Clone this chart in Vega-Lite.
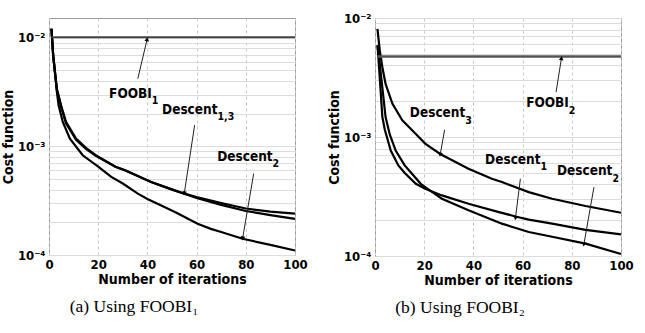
{
  "$schema": "https://vega.github.io/schema/vega-lite/v6.json",
  "padding": {"left": 0, "top": 11, "right": 0, "bottom": 0},
  "spacing": 80,
  "bounds": "flush",
  "datasets": {
    "curves": [
      {"panel": "a", "series": "FOOBI1", "iter": 1, "cost": 0.0101},
      {"panel": "a", "series": "FOOBI1", "iter": 100, "cost": 0.0101},
      {"panel": "a", "series": "Descent1", "iter": 1, "cost": 0.0121},
      {"panel": "a", "series": "Descent1", "iter": 1.7, "cost": 0.0069},
      {"panel": "a", "series": "Descent1", "iter": 3.2, "cost": 0.0034},
      {"panel": "a", "series": "Descent1", "iter": 4.9, "cost": 0.00239},
      {"panel": "a", "series": "Descent1", "iter": 6.9, "cost": 0.00168},
      {"panel": "a", "series": "Descent1", "iter": 11, "cost": 0.00118},
      {"panel": "a", "series": "Descent1", "iter": 15, "cost": 0.00097},
      {"panel": "a", "series": "Descent1", "iter": 19, "cost": 0.00083},
      {"panel": "a", "series": "Descent1", "iter": 27, "cost": 0.00065},
      {"panel": "a", "series": "Descent1", "iter": 31, "cost": 0.000603},
      {"panel": "a", "series": "Descent1", "iter": 41.5, "cost": 0.00047},
      {"panel": "a", "series": "Descent1", "iter": 50, "cost": 0.000402},
      {"panel": "a", "series": "Descent1", "iter": 55, "cost": 0.000367},
      {"panel": "a", "series": "Descent1", "iter": 60, "cost": 0.000342},
      {"panel": "a", "series": "Descent1", "iter": 70, "cost": 0.000301},
      {"panel": "a", "series": "Descent1", "iter": 80, "cost": 0.000268},
      {"panel": "a", "series": "Descent1", "iter": 90, "cost": 0.000251},
      {"panel": "a", "series": "Descent1", "iter": 100, "cost": 0.00024},
      {"panel": "a", "series": "Descent3", "iter": 1, "cost": 0.0121},
      {"panel": "a", "series": "Descent3", "iter": 1.7, "cost": 0.0068},
      {"panel": "a", "series": "Descent3", "iter": 3.2, "cost": 0.0033},
      {"panel": "a", "series": "Descent3", "iter": 4.9, "cost": 0.00232},
      {"panel": "a", "series": "Descent3", "iter": 6.9, "cost": 0.00163},
      {"panel": "a", "series": "Descent3", "iter": 11, "cost": 0.00115},
      {"panel": "a", "series": "Descent3", "iter": 15, "cost": 0.00095},
      {"panel": "a", "series": "Descent3", "iter": 19, "cost": 0.00082},
      {"panel": "a", "series": "Descent3", "iter": 27, "cost": 0.00065},
      {"panel": "a", "series": "Descent3", "iter": 31, "cost": 0.0006},
      {"panel": "a", "series": "Descent3", "iter": 41.5, "cost": 0.00047},
      {"panel": "a", "series": "Descent3", "iter": 50, "cost": 0.0004},
      {"panel": "a", "series": "Descent3", "iter": 55, "cost": 0.000366},
      {"panel": "a", "series": "Descent3", "iter": 60, "cost": 0.000336},
      {"panel": "a", "series": "Descent3", "iter": 70, "cost": 0.000289},
      {"panel": "a", "series": "Descent3", "iter": 80, "cost": 0.000254},
      {"panel": "a", "series": "Descent3", "iter": 90, "cost": 0.000233},
      {"panel": "a", "series": "Descent3", "iter": 100, "cost": 0.000215},
      {"panel": "a", "series": "Descent2", "iter": 1, "cost": 0.0121},
      {"panel": "a", "series": "Descent2", "iter": 1.7, "cost": 0.0069},
      {"panel": "a", "series": "Descent2", "iter": 3.2, "cost": 0.00317},
      {"panel": "a", "series": "Descent2", "iter": 3.9, "cost": 0.00239},
      {"panel": "a", "series": "Descent2", "iter": 5.6, "cost": 0.00168},
      {"panel": "a", "series": "Descent2", "iter": 8.5, "cost": 0.00118},
      {"panel": "a", "series": "Descent2", "iter": 13.7, "cost": 0.000828},
      {"panel": "a", "series": "Descent2", "iter": 20, "cost": 0.00065},
      {"panel": "a", "series": "Descent2", "iter": 25.3, "cost": 0.000523},
      {"panel": "a", "series": "Descent2", "iter": 30, "cost": 0.000455},
      {"panel": "a", "series": "Descent2", "iter": 36.1, "cost": 0.000367},
      {"panel": "a", "series": "Descent2", "iter": 40, "cost": 0.000328},
      {"panel": "a", "series": "Descent2", "iter": 46.9, "cost": 0.000277},
      {"panel": "a", "series": "Descent2", "iter": 52, "cost": 0.000244},
      {"panel": "a", "series": "Descent2", "iter": 60.4, "cost": 0.000194},
      {"panel": "a", "series": "Descent2", "iter": 65.8, "cost": 0.000174},
      {"panel": "a", "series": "Descent2", "iter": 70, "cost": 0.000163},
      {"panel": "a", "series": "Descent2", "iter": 78.7, "cost": 0.000141},
      {"panel": "a", "series": "Descent2", "iter": 90, "cost": 0.000124},
      {"panel": "a", "series": "Descent2", "iter": 100, "cost": 0.00011},
      {"panel": "b", "series": "FOOBI2", "iter": 1, "cost": 0.00474},
      {"panel": "b", "series": "FOOBI2", "iter": 100, "cost": 0.00474},
      {"panel": "b", "series": "Descent3", "iter": 1, "cost": 0.0081},
      {"panel": "b", "series": "Descent3", "iter": 2, "cost": 0.0052},
      {"panel": "b", "series": "Descent3", "iter": 3, "cost": 0.00386},
      {"panel": "b", "series": "Descent3", "iter": 4.3, "cost": 0.00279},
      {"panel": "b", "series": "Descent3", "iter": 7.1, "cost": 0.0019},
      {"panel": "b", "series": "Descent3", "iter": 11.1, "cost": 0.00138},
      {"panel": "b", "series": "Descent3", "iter": 16.6, "cost": 0.00106},
      {"panel": "b", "series": "Descent3", "iter": 20.4, "cost": 0.00088},
      {"panel": "b", "series": "Descent3", "iter": 26.5, "cost": 0.00072},
      {"panel": "b", "series": "Descent3", "iter": 38, "cost": 0.00054},
      {"panel": "b", "series": "Descent3", "iter": 47.5, "cost": 0.000446},
      {"panel": "b", "series": "Descent3", "iter": 51.6, "cost": 0.000418},
      {"panel": "b", "series": "Descent3", "iter": 62.5, "cost": 0.000344},
      {"panel": "b", "series": "Descent3", "iter": 72, "cost": 0.000303},
      {"panel": "b", "series": "Descent3", "iter": 85.6, "cost": 0.000263},
      {"panel": "b", "series": "Descent3", "iter": 100, "cost": 0.000231},
      {"panel": "b", "series": "Descent1", "iter": 1, "cost": 0.0059},
      {"panel": "b", "series": "Descent1", "iter": 1.6, "cost": 0.004},
      {"panel": "b", "series": "Descent1", "iter": 3, "cost": 0.00147},
      {"panel": "b", "series": "Descent1", "iter": 4, "cost": 0.00115},
      {"panel": "b", "series": "Descent1", "iter": 6.4, "cost": 0.00077},
      {"panel": "b", "series": "Descent1", "iter": 9.5, "cost": 0.000577},
      {"panel": "b", "series": "Descent1", "iter": 12, "cost": 0.0005},
      {"panel": "b", "series": "Descent1", "iter": 16.6, "cost": 0.000404},
      {"panel": "b", "series": "Descent1", "iter": 20.4, "cost": 0.000367},
      {"panel": "b", "series": "Descent1", "iter": 27.2, "cost": 0.000323},
      {"panel": "b", "series": "Descent1", "iter": 38, "cost": 0.000275},
      {"panel": "b", "series": "Descent1", "iter": 50, "cost": 0.000235},
      {"panel": "b", "series": "Descent1", "iter": 57.1, "cost": 0.000215},
      {"panel": "b", "series": "Descent1", "iter": 62.5, "cost": 0.000202},
      {"panel": "b", "series": "Descent1", "iter": 72, "cost": 0.000187},
      {"panel": "b", "series": "Descent1", "iter": 85.6, "cost": 0.000166},
      {"panel": "b", "series": "Descent1", "iter": 100, "cost": 0.000152},
      {"panel": "b", "series": "Descent2", "iter": 1, "cost": 0.0059},
      {"panel": "b", "series": "Descent2", "iter": 2, "cost": 0.004},
      {"panel": "b", "series": "Descent2", "iter": 4.3, "cost": 0.00147},
      {"panel": "b", "series": "Descent2", "iter": 6, "cost": 0.00105},
      {"panel": "b", "series": "Descent2", "iter": 8.4, "cost": 0.00077},
      {"panel": "b", "series": "Descent2", "iter": 12, "cost": 0.00058},
      {"panel": "b", "series": "Descent2", "iter": 18.6, "cost": 0.000404},
      {"panel": "b", "series": "Descent2", "iter": 22, "cost": 0.00036},
      {"panel": "b", "series": "Descent2", "iter": 27.2, "cost": 0.000303},
      {"panel": "b", "series": "Descent2", "iter": 38, "cost": 0.000242},
      {"panel": "b", "series": "Descent2", "iter": 51.6, "cost": 0.000187},
      {"panel": "b", "series": "Descent2", "iter": 62.5, "cost": 0.000159},
      {"panel": "b", "series": "Descent2", "iter": 72, "cost": 0.000145},
      {"panel": "b", "series": "Descent2", "iter": 85.6, "cost": 0.000127},
      {"panel": "b", "series": "Descent2", "iter": 100, "cost": 0.000104}
    ],
    "notes": [
      {"panel": "a", "part": "main", "text": "FOOBI", "iter": 41.8, "cost": 0.00281},
      {"panel": "a", "part": "sub", "text": "1", "iter": 41.8, "cost": 0.00247},
      {"panel": "a", "part": "main", "text": "Descent", "iter": 68.5, "cost": 0.002},
      {"panel": "a", "part": "sub", "text": "1,3", "iter": 68.5, "cost": 0.00174},
      {"panel": "a", "part": "main", "text": "Descent", "iter": 90.9, "cost": 0.000735},
      {"panel": "a", "part": "sub", "text": "2", "iter": 90.9, "cost": 0.000646},
      {"panel": "b", "part": "main", "text": "FOOBI", "iter": 78.8, "cost": 0.00178},
      {"panel": "b", "part": "sub", "text": "2", "iter": 78.8, "cost": 0.00156},
      {"panel": "b", "part": "main", "text": "Descent", "iter": 36.7, "cost": 0.00147},
      {"panel": "b", "part": "sub", "text": "3", "iter": 36.7, "cost": 0.00129},
      {"panel": "b", "part": "main", "text": "Descent", "iter": 67.3, "cost": 0.000595},
      {"panel": "b", "part": "sub", "text": "1", "iter": 67.3, "cost": 0.000524},
      {"panel": "b", "part": "main", "text": "Descent", "iter": 96.5, "cost": 0.000476},
      {"panel": "b", "part": "sub", "text": "2", "iter": 96.5, "cost": 0.000418}
    ],
    "arrows": [
      {"panel": "a", "dir": "up", "iter": 36.1, "cost": 0.0042, "headIter": 39.9, "headCost": 0.0097},
      {"panel": "a", "dir": "down", "iter": 59.2, "cost": 0.00157, "headIter": 55, "headCost": 0.00037},
      {"panel": "a", "dir": "down", "iter": 83.2, "cost": 0.000561, "headIter": 78.7, "headCost": 0.000142},
      {"panel": "b", "dir": "up", "iter": 73.6, "cost": 0.00238, "headIter": 75.8, "headCost": 0.0046},
      {"panel": "b", "dir": "down", "iter": 28.3, "cost": 0.00115, "headIter": 26.5, "headCost": 0.00071},
      {"panel": "b", "dir": "down", "iter": 59.1, "cost": 0.000445, "headIter": 57.1, "headCost": 0.000208},
      {"panel": "b", "dir": "down", "iter": 89, "cost": 0.000379, "headIter": 84.9, "headCost": 0.000125}
    ]
  },
  "hconcat": [
    {
      "width": 246,
      "height": 237,
      "title": {"text": "(a)  Using FOOBI₁", "orient": "bottom", "anchor": "middle", "dx": -38, "offset": 12},
      "layer": [
        {
          "data": {"name": "curves"},
          "transform": [{"filter": "datum.panel == 'a' && datum.series != 'FOOBI1'"}],
          "mark": {"type": "line", "color": "black", "strokeWidth": 2.2},
          "encoding": {
            "x": {"field": "iter", "type": "quantitative", "title": "Number of iterations",
                  "scale": {"domain": [0, 100], "nice": false},
                  "axis": {"values": [0, 20, 40, 60, 80, 100]}},
            "y": {"field": "cost", "type": "quantitative", "title": "Cost function",
                  "scale": {"type": "log", "domain": [0.0001, 0.0152], "nice": false},
                  "axis": {"values": [0.0001, 0.0002, 0.0003, 0.0004, 0.0005, 0.0006, 0.0007, 0.0008, 0.0009, 0.001, 0.002, 0.003, 0.004, 0.005, 0.006, 0.007, 0.008, 0.009, 0.01],
                           "labelExpr": "abs(log(datum.value)/LN10 - round(log(datum.value)/LN10)) < 0.001 ? (round(log(datum.value)/LN10) == -2 ? '10⁻²' : round(log(datum.value)/LN10) == -3 ? '10⁻³' : '10⁻⁴') : ''"}},
            "detail": {"field": "series"}
          }
        },
        {
          "data": {"name": "curves"},
          "transform": [{"filter": "datum.panel == 'a' && datum.series == 'FOOBI1'"}],
          "mark": {"type": "line", "color": "#444", "strokeWidth": 2},
          "encoding": {
            "x": {"field": "iter", "type": "quantitative"},
            "y": {"field": "cost", "type": "quantitative"}
          }
        },
        {
          "data": {"name": "arrows"},
          "transform": [{"filter": "datum.panel == 'a'"}],
          "mark": {"type": "rule", "color": "#222", "strokeWidth": 1},
          "encoding": {
            "x": {"field": "iter", "type": "quantitative"},
            "y": {"field": "cost", "type": "quantitative"},
            "x2": {"field": "headIter"},
            "y2": {"field": "headCost"}
          }
        },
        {
          "data": {"name": "arrows"},
          "transform": [{"filter": "datum.panel == 'a' && datum.dir == 'up'"}],
          "mark": {"type": "point", "shape": "triangle-up", "filled": true, "color": "black", "opacity": 1, "size": 22, "angle": 12},
          "encoding": {
            "x": {"field": "headIter", "type": "quantitative"},
            "y": {"field": "headCost", "type": "quantitative"}
          }
        },
        {
          "data": {"name": "arrows"},
          "transform": [{"filter": "datum.panel == 'a' && datum.dir == 'down'"}],
          "mark": {"type": "point", "shape": "triangle-up", "filled": true, "color": "black", "opacity": 1, "size": 22, "angle": 189},
          "encoding": {
            "x": {"field": "headIter", "type": "quantitative"},
            "y": {"field": "headCost", "type": "quantitative"}
          }
        },
        {
          "data": {"name": "notes"},
          "transform": [{"filter": "datum.panel == 'a' && datum.part == 'main'"}],
          "mark": {"type": "text", "align": "right", "baseline": "alphabetic", "fontSize": 13.5, "fontWeight": "bold", "color": "black"},
          "encoding": {
            "x": {"field": "iter", "type": "quantitative"},
            "y": {"field": "cost", "type": "quantitative"},
            "text": {"field": "text"}
          }
        },
        {
          "data": {"name": "notes"},
          "transform": [{"filter": "datum.panel == 'a' && datum.part == 'sub'"}],
          "mark": {"type": "text", "align": "left", "baseline": "alphabetic", "fontSize": 10.5, "fontWeight": "bold", "color": "black"},
          "encoding": {
            "x": {"field": "iter", "type": "quantitative"},
            "y": {"field": "cost", "type": "quantitative"},
            "text": {"field": "text"}
          }
        }
      ]
    },
    {
      "width": 246,
      "height": 238,
      "title": {"text": "(b)  Using FOOBI₂", "orient": "bottom", "anchor": "middle", "dx": -38, "offset": 12},
      "layer": [
        {
          "data": {"name": "curves"},
          "transform": [{"filter": "datum.panel == 'b' && datum.series != 'FOOBI2'"}],
          "mark": {"type": "line", "color": "black", "strokeWidth": 2.2},
          "encoding": {
            "x": {"field": "iter", "type": "quantitative", "title": "Number of iterations",
                  "scale": {"domain": [0, 100], "nice": false},
                  "axis": {"values": [0, 20, 40, 60, 80, 100]}},
            "y": {"field": "cost", "type": "quantitative", "title": "Cost function",
                  "scale": {"type": "log", "domain": [0.0001, 0.01], "nice": false},
                  "axis": {"values": [0.0001, 0.0002, 0.0003, 0.0004, 0.0005, 0.0006, 0.0007, 0.0008, 0.0009, 0.001, 0.002, 0.003, 0.004, 0.005, 0.006, 0.007, 0.008, 0.009, 0.01],
                           "labelExpr": "abs(log(datum.value)/LN10 - round(log(datum.value)/LN10)) < 0.001 ? (round(log(datum.value)/LN10) == -2 ? '10⁻²' : round(log(datum.value)/LN10) == -3 ? '10⁻³' : '10⁻⁴') : ''"}},
            "detail": {"field": "series"}
          }
        },
        {
          "data": {"name": "curves"},
          "transform": [{"filter": "datum.panel == 'b' && datum.series == 'FOOBI2'"}],
          "mark": {"type": "line", "color": "#555", "strokeWidth": 2.5},
          "encoding": {
            "x": {"field": "iter", "type": "quantitative"},
            "y": {"field": "cost", "type": "quantitative"}
          }
        },
        {
          "data": {"name": "arrows"},
          "transform": [{"filter": "datum.panel == 'b'"}],
          "mark": {"type": "rule", "color": "#222", "strokeWidth": 1},
          "encoding": {
            "x": {"field": "iter", "type": "quantitative"},
            "y": {"field": "cost", "type": "quantitative"},
            "x2": {"field": "headIter"},
            "y2": {"field": "headCost"}
          }
        },
        {
          "data": {"name": "arrows"},
          "transform": [{"filter": "datum.panel == 'b' && datum.dir == 'up'"}],
          "mark": {"type": "point", "shape": "triangle-up", "filled": true, "color": "black", "opacity": 1, "size": 22, "angle": 9},
          "encoding": {
            "x": {"field": "headIter", "type": "quantitative"},
            "y": {"field": "headCost", "type": "quantitative"}
          }
        },
        {
          "data": {"name": "arrows"},
          "transform": [{"filter": "datum.panel == 'b' && datum.dir == 'down'"}],
          "mark": {"type": "point", "shape": "triangle-up", "filled": true, "color": "black", "opacity": 1, "size": 22, "angle": 189},
          "encoding": {
            "x": {"field": "headIter", "type": "quantitative"},
            "y": {"field": "headCost", "type": "quantitative"}
          }
        },
        {
          "data": {"name": "notes"},
          "transform": [{"filter": "datum.panel == 'b' && datum.part == 'main'"}],
          "mark": {"type": "text", "align": "right", "baseline": "alphabetic", "fontSize": 13.5, "fontWeight": "bold", "color": "black"},
          "encoding": {
            "x": {"field": "iter", "type": "quantitative"},
            "y": {"field": "cost", "type": "quantitative"},
            "text": {"field": "text"}
          }
        },
        {
          "data": {"name": "notes"},
          "transform": [{"filter": "datum.panel == 'b' && datum.part == 'sub'"}],
          "mark": {"type": "text", "align": "left", "baseline": "alphabetic", "fontSize": 10.5, "fontWeight": "bold", "color": "black"},
          "encoding": {
            "x": {"field": "iter", "type": "quantitative"},
            "y": {"field": "cost", "type": "quantitative"},
            "text": {"field": "text"}
          }
        }
      ]
    }
  ],
  "config": {
    "font": "DejaVu Sans Condensed, Liberation Sans, sans-serif",
    "view": {"stroke": "#9a9a9a", "strokeWidth": 1},
    "axis": {
      "domain": false,
      "ticks": false,
      "grid": true,
      "labelFont": "DejaVu Sans Condensed, Liberation Sans, sans-serif",
      "labelFontWeight": "bold",
      "labelFontSize": 13,
      "labelColor": "black",
      "titleFont": "DejaVu Sans Condensed, Liberation Sans, sans-serif",
      "titleFontWeight": "bold",
      "titleFontSize": 14,
      "titleColor": "black"
    },
    "axisX": {"gridColor": "#c8c8c8", "gridDash": [3, 3], "labelPadding": 3, "titlePadding": 1, "labelFlush": false},
    "axisY": {"gridColor": "#dcdcdc", "labelPadding": 4, "titlePadding": 2},
    "title": {"font": "Liberation Serif", "fontSize": 17.5, "fontWeight": "normal", "color": "black"}
  }
}
